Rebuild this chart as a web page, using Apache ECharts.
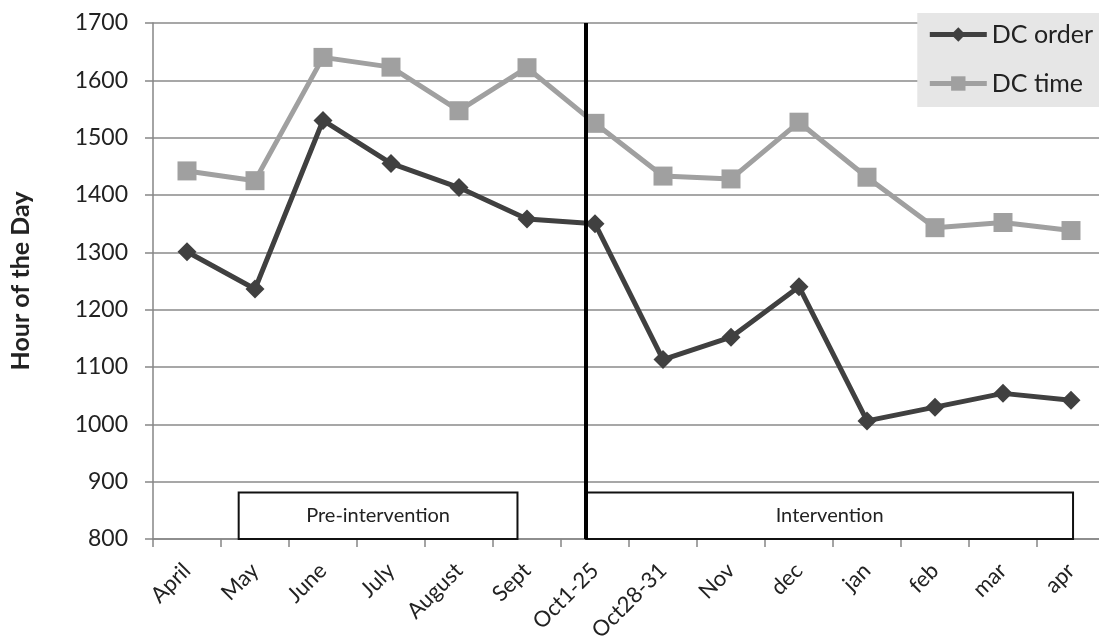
<!DOCTYPE html>
<html><head><meta charset="utf-8">
<script src="https://cdn.jsdelivr.net/npm/echarts@6/dist/echarts.min.js"></script>
<style>html,body{margin:0;padding:0;background:#fff}#c{width:1099px;height:641px}</style>
</head><body><div id="c"></div>
<script>
// ---- data ----
const categories = ['April','May','June','July','August','Sept','Oct1-25','Oct28-31','Nov','dec','jan','feb','mar','apr'];
const dcOrder = [1301,1236,1530,1455,1413,1358,1350,1113,1152,1240,1006,1030,1054,1042];
const dcTime  = [1442,1425,1640,1623,1547,1622,1525,1433,1428,1527,1431,1343,1352,1338];
const yMin = 800, yMax = 1700, yStep = 100;
const phaseLabels = ['Pre-intervention','Intervention'];
const phaseStart = [0.76, 5.87];   // in category-index units
const phaseEnd   = [4.86, 13.03];
const phaseTop   = 881;
const interventionLine = 5.87;

const FONT = 'Lato';
const chart = echarts.init(document.getElementById('c'), null, {renderer:'canvas'});
chart.setOption({
  animation:false,
  backgroundColor:'#ffffff',
  textStyle:{fontFamily:FONT},
  grid:{left:153, top:23, width:952, height:516, containLabel:false, outerBoundsMode:'none'},
  legend:{
    data:['DC order','DC time'],
    orient:'vertical', right:0, top:13,
    backgroundColor:'#e6e6e6',
    padding:[9,6,11,10], itemGap:24, itemWidth:57, itemHeight:18,
    lineStyle:{width:5},
    textStyle:{fontSize:25, color:'#222', fontFamily:FONT}
  },
  xAxis:[{
    type:'category', data:categories, boundaryGap:true,
    axisLine:{show:true, onZero:false, lineStyle:{color:'#868686', width:1.5}},
    axisTick:{show:true, length:8, interval:0, lineStyle:{color:'#868686', width:1.5}},
    axisLabel:{rotate:45, interval:0, fontSize:22, color:'#222', margin:28, fontFamily:FONT},
    splitLine:{show:false}
  },{
    type:'value', min:-0.5, max:13.5, show:false,
    axisLine:{show:false, onZero:false}, splitLine:{show:false}
  }],
  yAxis:{
    type:'value', min:yMin, max:yMax, interval:yStep,
    axisLine:{show:true, onZero:false, lineStyle:{color:'#868686', width:1.5}},
    axisTick:{show:true, length:8, lineStyle:{color:'#868686', width:1.5}},
    axisLabel:{fontSize:23, color:'#222', margin:25, fontFamily:FONT, formatter:v=>String(v)},
    splitLine:{show:true, lineStyle:{color:'#8a8a8a', width:1.5}},
    name:'Hour of the Day', nameLocation:'middle', nameGap:120,
    nameTextStyle:{fontSize:25, fontWeight:'bold', color:'#222', fontFamily:FONT}
  },
  series:[
    {name:'DC time', type:'line', data:dcTime, color:'#a0a0a0',
     symbol:'rect', symbolSize:19, lineStyle:{width:5, color:'#a0a0a0'},
     itemStyle:{color:'#a0a0a0'}, z:2},
    {name:'DC order', type:'line', data:dcOrder, color:'#404040',
     symbol:'diamond', symbolSize:19, lineStyle:{width:5, color:'#404040'},
     itemStyle:{color:'#404040'}, z:3},
    {name:'phases', type:'line', xAxisIndex:1, yAxisIndex:0, data:[], z:5, silent:true,
     markArea:{
       silent:true,
       itemStyle:{color:'#ffffff', borderColor:'#111', borderWidth:2},
       label:{show:true, position:'inside', color:'#222', fontSize:20, fontFamily:FONT},
       data: phaseLabels.map((n,i)=>[{name:n, xAxis:phaseStart[i], yAxis:yMin},{xAxis:phaseEnd[i], yAxis:phaseTop}])
     },
     markLine:{
       silent:true, symbol:['none','none'],
       lineStyle:{color:'#000', width:4, type:'solid'},
       label:{show:false},
       data:[{xAxis:interventionLine}]
     }
    }
  ]
});
</script>
</body></html>
